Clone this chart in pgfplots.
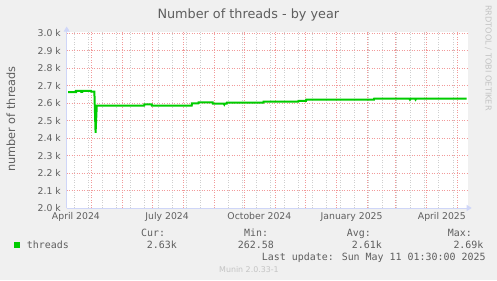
\documentclass[border=0pt]{standalone}
\usepackage{fontspec}
\setmainfont{DejaVu Sans}
\newfontfamily\mono{DejaVu Sans Mono}
\usepackage{pgfplots}
\pgfplotsset{compat=1.18}
\usetikzlibrary{arrows.meta}
\definecolor{bgc}{HTML}{F0F0F0}
\definecolor{fontc}{HTML}{5E5E5E}
\definecolor{lightc}{HTML}{C4C4C4}
\definecolor{axisc}{HTML}{CFD6F8}
\definecolor{mgrid}{HTML}{F29A9A}
\definecolor{gridc}{HTML}{CFCFCF}
\definecolor{linec}{HTML}{00CC00}
\begin{document}
\begin{tikzpicture}[x=1bp,y=1bp]
\fill[bgc] (0,0) rectangle (497,280);
\begin{axis}[
  at={(66.7bp,72bp)}, anchor=south west,
  scale only axis, width=401bp, height=176.4bp,
  xmin=5.8, xmax=405.8, ymin=2000, ymax=3010,
  axis lines=left,
  axis line style={draw=axisc, line width=1bp},
  x axis line style={-{Triangle[length=5bp,width=6bp]}, shorten >=-4bp},
  y axis line style={-{Triangle[length=5bp,width=6bp]}, shorten >=-5bp},
  axis background/.style={fill=white},
  xtick={30,61,91,122,153,183,214,244,275,306,334,365,395},
  xticklabels={},
  minor xtick={13,27,41,55,69,83,97,111,125,139,153,167,181,195,209,223,237,251,265,279,293,307,321,335,349,363,377,391},
  extra x ticks={15,106,198,290,380},
  extra x tick labels={April 2024,July 2024,October 2024,January 2025,April 2025},
  extra x tick style={grid=none},
  xticklabel style={font=\fontsize{9.3bp}{11bp}\selectfont, text=fontc, anchor=north, inner sep=0pt, yshift=-4.7bp},
  ytick={2000,2100,2200,2300,2400,2500,2600,2700,2800,2900,3000},
  yticklabels={2.0 k,2.1 k,2.2 k,2.3 k,2.4 k,2.5 k,2.6 k,2.7 k,2.8 k,2.9 k,3.0 k},
  yticklabel style={font=\fontsize{9.3bp}{11bp}\selectfont, text=fontc, anchor=east, inner sep=0pt, xshift=-5.7bp},
  major tick length=0pt, minor tick length=0pt, tick align=inside,
  tick style={draw=none},
  xmajorgrids, xminorgrids, ymajorgrids,
  major grid style={draw=mgrid, dash pattern=on 1bp off 1.5bp, line width=0.7bp},
  minor grid style={draw=gridc, dash pattern=on 1bp off 1.5bp, line width=0.7bp},
  clip=true,
]
\addplot[linec, line width=2bp, line join=miter] coordinates {
(7.2,2664)(15.2,2664)(15.2,2670)(20.1,2670)(20.3,2665)(21.4,2665)(21.6,2670)(30.1,2670)(30.3,2666)(33.4,2666)(34.6,2431)(35.8,2586)
(83.0,2586)(83.2,2594)(90.6,2594)(90.8,2586)(130.5,2586)(130.7,2599)(137.1,2599)(137.3,2605)(151.4,2605)(151.6,2597)
(162.5,2597)(163.0,2592)(163.5,2597)(165.4,2597)(165.6,2603)(201.9,2603)(202.1,2609)(236.8,2609)(237.0,2614)(244.5,2614)
(244.7,2620)(312.3,2620)(312.5,2626)(347.7,2626)(348.2,2621)(348.7,2626)(353.3,2626)(353.8,2621)(354.3,2626)(404.6,2626)
};
\end{axis}
\node[font=\fontsize{12.8bp}{15bp}\selectfont, text=fontc, anchor=base, inner sep=0pt] at (248.3,261.7) {Number of threads - by year};
\node[font=\fontsize{11.3bp}{13bp}\selectfont, text=fontc, rotate=90, anchor=center, inner sep=0pt] at (10.8,160.8) {number of threads};
\node[font=\fontsize{8.2bp}{10bp}\selectfont, text=lightc, rotate=-90, anchor=west, inner sep=0pt] at (488.3,275) {RRDTOOL / TOBI OETIKER};
\fill[linec] (14,32.3) rectangle (20,38.3);
\begin{scope}[every node/.style={font=\mono\fontsize{9.95bp}{12bp}\selectfont, text=fontc, anchor=base west, inner sep=0pt}]
\node at (26.7,31.7) {threads};
\node at (141,43.3) {Cur:};
\node at (244,43.3) {Min:};
\node at (346.7,43.3) {Avg:};
\node at (447.7,43.3) {Max:};
\node at (146.7,31.7) {2.63k};
\node at (237.7,31.7) {262.58};
\node at (351.7,31.7) {2.61k};
\node at (453.3,31.7) {2.69k};
\node at (261.7,19.3) {Last update: Sun May 11 01:30:00 2025};
\end{scope}
\node[font=\fontsize{7.9bp}{9bp}\selectfont, text=lightc, anchor=base west, inner sep=0pt] at (219,8) {Munin 2.0.33-1};
\pgfresetboundingbox
\useasboundingbox (0,0) rectangle (497,280);
\end{tikzpicture}
\end{document}
